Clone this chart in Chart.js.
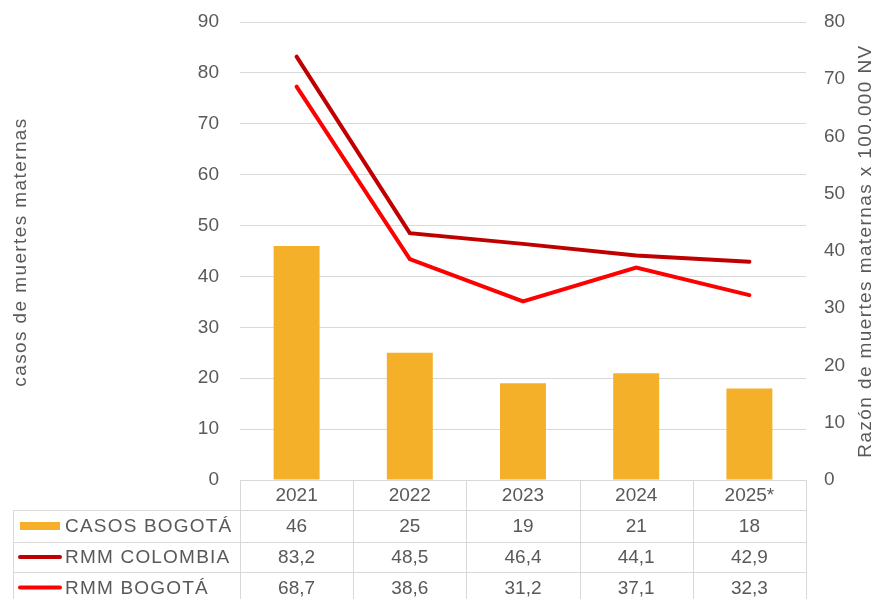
<!DOCTYPE html>
<html><head><meta charset="utf-8">
<script src="https://cdn.jsdelivr.net/npm/chart.js@4/dist/chart.umd.min.js"></script>
<style>html,body{margin:0;padding:0;background:#fff}#wrap{width:876px;height:599px;position:relative}</style>
</head><body><div id="wrap"><canvas id="c" width="876" height="599"></canvas></div>
<script>
const years = ['2021', '2022', '2023', '2024', '2025*'];
const casosBogota = [46, 25, 19, 21, 18];
const rmmColombia = [83.2, 48.5, 46.4, 44.1, 42.9];
const rmmBogota = [68.7, 38.6, 31.2, 37.1, 32.3];
const seriesNames = ['CASOS BOGOTÁ', 'RMM COLOMBIA', 'RMM BOGOTÁ'];
const leftTitle = 'casos de muertes maternas';
const rightTitle = 'Razón de muertes maternas x 100.000 NV';

const FONT = '"Liberation Sans", Arial, sans-serif';
const TXT = '#595959';
const GRID = '#D9D9D9';
const COL_BAR = '#F5B02A';
const COL_COL = '#C00000';
const COL_BOG = '#FF0000';

function fmt(v, dec) { return dec ? v.toFixed(1).replace('.', ',') : String(v); }

const tablePlugin = {
  id: 'tablePlugin',
  afterDraw(chart) {
    const ctx = chart.ctx;
    const a = chart.chartArea;
    const xs = chart.scales.x;
    const n = years.length;
    const cw = (a.right - a.left) / n;
    const rows = [a.bottom, a.bottom + 30, a.bottom + 62, a.bottom + 92, a.bottom + 123];
    const leftX = 13;
    ctx.save();
    ctx.strokeStyle = GRID;
    ctx.lineWidth = 1;
    ctx.beginPath();
    for (let r = 1; r < rows.length; r++) {
      const y = Math.round(rows[r]) + 0.5;
      ctx.moveTo(leftX, y); ctx.lineTo(a.right, y);
    }
    for (let i = 0; i <= n; i++) {
      const x = Math.round(a.left + i * cw) + 0.5;
      ctx.moveTo(x, rows[0]); ctx.lineTo(x, rows[4]);
    }
    ctx.moveTo(leftX + 0.5, rows[1]); ctx.lineTo(leftX + 0.5, rows[4]);
    ctx.stroke();

    ctx.fillStyle = TXT;
    ctx.font = '19px ' + FONT;
    ctx.textAlign = 'center';
    ctx.textBaseline = 'middle';
    const allVals = [casosBogota, rmmColombia, rmmBogota];
    for (let i = 0; i < n; i++) {
      const cx = xs.getPixelForValue(i);
      ctx.fillText(years[i], cx, (rows[0] + rows[1]) / 2 + 1);
      for (let s = 0; s < 3; s++) {
        ctx.fillText(fmt(allVals[s][i], s > 0), cx, (rows[s + 1] + rows[s + 2]) / 2 + 1);
      }
    }
    ctx.textAlign = 'left';
    ctx.letterSpacing = '1.2px';
    for (let s = 0; s < 3; s++) {
      const cy = (rows[s + 1] + rows[s + 2]) / 2;
      if (s === 0) {
        ctx.fillStyle = COL_BAR;
        ctx.fillRect(20, cy - 4, 40, 8);
      } else {
        ctx.strokeStyle = s === 1 ? COL_COL : COL_BOG;
        ctx.lineWidth = 4;
        ctx.lineCap = 'round';
        ctx.beginPath(); ctx.moveTo(20, cy); ctx.lineTo(60, cy); ctx.stroke();
      }
      ctx.fillStyle = TXT;
      ctx.fillText(seriesNames[s], 65, cy + 1);
    }
    ctx.textAlign = 'center';
    ctx.letterSpacing = '1.4px';
    ctx.save();
    ctx.translate(21, 252);
    ctx.rotate(-Math.PI / 2);
    ctx.fillText(leftTitle, 0, 0);
    ctx.restore();
    ctx.save();
    ctx.translate(866, 251);
    ctx.rotate(-Math.PI / 2);
    ctx.fillText(rightTitle, 0, 0);
    ctx.restore();
    ctx.restore();
  }
};

const tickFont = { family: FONT, size: 19 };

new Chart(document.getElementById('c'), {
  data: {
    labels: years,
    datasets: [
      { type: 'line', label: seriesNames[1], data: rmmColombia, yAxisID: 'y', borderColor: COL_COL, backgroundColor: COL_COL, borderWidth: 4, pointRadius: 0, tension: 0, borderCapStyle: 'round', order: 1 },
      { type: 'line', label: seriesNames[2], data: rmmBogota, yAxisID: 'y1', borderColor: COL_BOG, backgroundColor: COL_BOG, borderWidth: 4, pointRadius: 0, tension: 0, borderCapStyle: 'round', order: 1 },
      { type: 'bar', label: seriesNames[0], data: casosBogota, yAxisID: 'y', backgroundColor: COL_BAR, categoryPercentage: 1, barPercentage: 0.406, order: 2 }
    ]
  },
  options: {
    responsive: false,
    animation: false,
    devicePixelRatio: 1,
    layout: { padding: { top: 22, left: 0, right: 0, bottom: 0 } },
    plugins: { legend: { display: false }, tooltip: { enabled: false } },
    scales: {
      x: {
        ticks: { display: false },
        grid: { display: false, drawTicks: false },
        border: { display: false },
        afterFit(s) { s.height = 119; }
      },
      y: {
        position: 'left', min: 0, max: 90,
        ticks: { stepSize: 10, color: TXT, font: tickFont, padding: 21 },
        grid: { color: GRID, drawTicks: false },
        border: { display: false },
        afterFit(s) { s.width = 240; s.paddingTop = 0; s.paddingBottom = 0; }
      },
      y1: {
        position: 'right', min: 0, max: 80,
        ticks: { stepSize: 10, color: TXT, font: tickFont, padding: 18 },
        grid: { display: false, drawTicks: false },
        border: { display: false },
        afterFit(s) { s.width = 70; s.paddingTop = 0; s.paddingBottom = 0; }
      }
    }
  },
  plugins: [tablePlugin]
});
</script></body></html>
